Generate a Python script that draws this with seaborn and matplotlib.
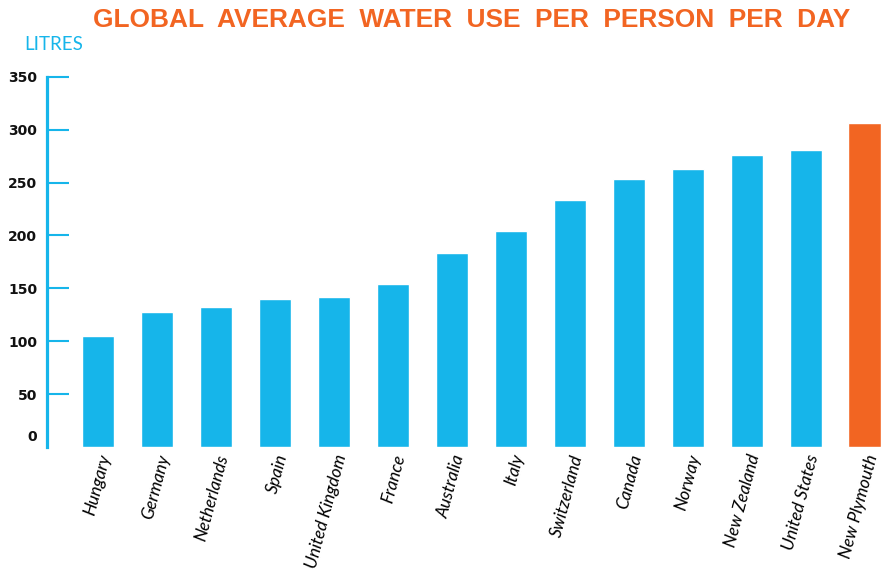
import matplotlib
matplotlib.use('Agg')
import matplotlib.pyplot as plt
import matplotlib.transforms as mtransforms
import seaborn as sns

# Data
countries = ['Hungary', 'Germany', 'Netherlands', 'Spain', 'United Kingdom', 'France',
             'Australia', 'Italy', 'Switzerland', 'Canada', 'Norway', 'New Zealand',
             'United States', 'New Plymouth']
litres = [105, 128, 132, 140, 142, 154, 183, 204, 233, 253, 263, 276, 281, 306]
y_ticks = [0, 50, 100, 150, 200, 250, 300, 350]

BLUE = '#16b5ea'
ORANGE = '#f26522'
colors = [BLUE] * (len(countries) - 1) + [ORANGE]

sns.set_style('white')

fig = plt.figure(figsize=(8.94, 5.73), dpi=100)
ax = fig.add_axes([0.0526, 0.22, 0.9364, 0.647])

sns.barplot(x=countries, y=litres, hue=countries, palette=colors, legend=False,
            width=0.55, saturation=1, ax=ax)

ax.set_xlim(-0.864, 13.33)
ax.set_ylim(0, 350.5)
ax.set_yticks(y_ticks)
ax.set_yticklabels([str(t) for t in y_ticks], fontweight='bold', fontsize=10,
                   family='DejaVu Sans', color='#111111')
ax.set_xlabel('')
ax.set_ylabel('')

for s in ['top', 'right', 'bottom']:
    ax.spines[s].set_visible(False)
ax.spines['left'].set_color(BLUE)
ax.spines['left'].set_linewidth(2.3)
ax.spines['left'].set_bounds(0, 350)

ax.tick_params(axis='y', left=True, direction='in', length=16, width=1.5,
               color=BLUE, pad=7)
ax.tick_params(axis='x', bottom=False, length=0, pad=4)

# no tick line at zero, label sits a bit higher
t0 = ax.yaxis.get_major_ticks()[0]
t0.tick1line.set_visible(False)
t0.label1.set_transform(t0.label1.get_transform() +
                        mtransforms.ScaledTranslation(0, 11 / 100, fig.dpi_scale_trans))

for lab in ax.get_xticklabels():
    lab.set_rotation(75)
    lab.set_ha('right')
    lab.set_rotation_mode('anchor')
    lab.set_fontstyle('italic')
    lab.set_family('Lato')
    lab.set_fontsize(12.5)
    lab.set_color('#000000')

fig.text(0.528, 0.965, 'GLOBAL  AVERAGE  WATER  USE  PER  PERSON  PER  DAY',
         ha='center', va='center', color=ORANGE, fontsize=18.9, fontweight='bold',
         family='Liberation Sans')
fig.text(0.027, 0.922, 'LITRES', ha='left', va='center', color=BLUE, fontsize=13.5,
         family='Lato')

fig.savefig('out.png', dpi=100)
